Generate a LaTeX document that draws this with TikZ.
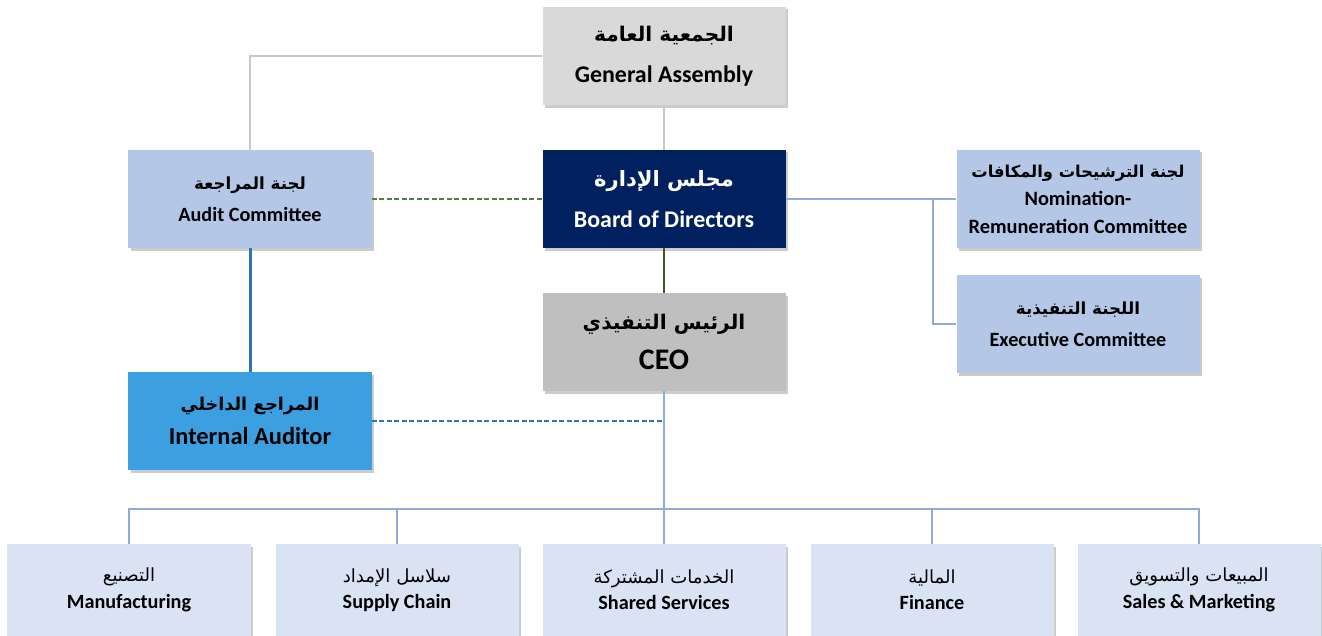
\documentclass[tikz,border=0pt]{standalone}
\usepackage{fontspec}
\setmainfont{Carlito}
\newfontfamily\arfont[Script=Arabic]{DejaVu Sans}
\TeXXeTstate=1
\usetikzlibrary{shadows}

\definecolor{gagray}{HTML}{D9D9D9}
\definecolor{ceogray}{HTML}{BFBFBF}
\definecolor{boardnavy}{HTML}{002060}
\definecolor{comblue}{HTML}{B4C7E7}
\definecolor{iablue}{HTML}{3CA0E0}
\definecolor{deptblue}{HTML}{DAE3F3}
\definecolor{linegray}{HTML}{C8C8C8}
\definecolor{lineblue}{HTML}{8FAADC}
\definecolor{darkblue}{HTML}{2E75B6}
\definecolor{darkgreen}{HTML}{385723}
\definecolor{dashgreen}{HTML}{548235}

% アラビア語のフォント（サイズ指定）
\newcommand{\arbold}[1]{\arfont\bfseries\fontsize{#1}{#1}\selectfont}
\newcommand{\arplain}[1]{\arfont\mdseries\fontsize{#1}{#1}\selectfont}

\begin{document}
\begin{tikzpicture}[x=0.2mm, y=-0.2mm,
    box/.style={rectangle, minimum width=48.6mm, minimum height=19.6mm, inner sep=0pt, align=center,
      drop shadow={shadow xshift=0.5mm, shadow yshift=-0.5mm, opacity=0.2, fill=black}},
    topbox/.style={box, font=\fontsize{13.6}{23}\selectfont\bfseries},
    combox/.style={box, fill=comblue, font=\fontsize{11.5}{18}\selectfont\bfseries},
    deptbox/.style={box, minimum height=18.4mm, fill=deptblue, font=\fontsize{11.5}{15}\selectfont\bfseries},
    grayline/.style={draw=linegray, line width=0.45mm},
    blueline/.style={draw=lineblue, line width=0.45mm},
    dashline/.style={line width=0.4mm, dash pattern=on 1mm off 0.5mm}]
    \useasboundingbox (0,0) rectangle (1322,636);

    \coordinate (split) at (933,199);
    \coordinate (bar) at (664,509);
    \coordinate (iajoin) at (664,421);

    % ノード
    \node[topbox, fill=gagray] (ga) at (664,56) {{\arbold{11.5}\beginR الجمعية العامة\endR}\\General Assembly};
    \node[topbox, fill=boardnavy, text=white] (board) at (664,199) {{\arbold{12}\beginR مجلس الإدارة\endR}\\Board of Directors};
    \node[topbox, fill=ceogray, font=\fontsize{17}{23}\selectfont\bfseries] (ceo) at (664,342) {{\arbold{11.5}\beginR الرئيس التنفيذي\endR}\\CEO};
    \node[combox] (audit) at (250,199) {{\arbold{9.5}\beginR لجنة المراجعة\endR}\\Audit Committee};
    \node[combox, fill=iablue, font=\fontsize{13.9}{19}\selectfont\bfseries] (ia) at (250,421) {{\arbold{10}\beginR المراجع الداخلي\endR}\\Internal Auditor};
    \node[combox, font=\fontsize{11.6}{16}\selectfont\bfseries] (nomination) at (1078,199) {{\arbold{9.3}\beginR لجنة الترشيحات والمكافات\endR}\\Nomination-\\Remuneration Committee};
    \node[combox] (executive) at (1078,324) {{\arbold{9.5}\beginR اللجنة التنفيذية\endR}\\Executive Committee};

    \node[deptbox] (manufacturing) at (129,590) {{\arplain{10.3}\beginR التصنيع\endR}\\Manufacturing};
    \node[deptbox] (supply) at (397,590) {{\arplain{10.3}\beginR سلاسل الإمداد\endR}\\Supply Chain};
    \node[deptbox] (shared) at (664,590) {{\arplain{10.3}\beginR الخدمات المشتركة\endR}\\Shared Services};
    \node[deptbox] (finance) at (932,590) {{\arplain{10.3}\beginR المالية\endR}\\Finance};
    \node[deptbox] (sales) at (1199,590) {{\arplain{10.3}\beginR المبيعات والتسويق\endR}\\Sales \& Marketing};

    % エッジ
    \draw[grayline] (ga.west) -| (audit.north);
    \draw[grayline] (ga) -- (board);
    \draw[dashline, draw=dashgreen] (audit) -- (board);
    \draw[draw=darkgreen, line width=0.45mm] (board) -- (ceo);
    \draw[draw=darkblue, line width=0.6mm] (audit) -- (ia);
    \draw[blueline] (board.east) -- (split) -- (nomination.west);
    \draw[blueline] (split) |- (executive.west);
    \draw[blueline] (ceo.south) -- (bar);
    \draw[dashline, draw=darkblue] (ia.east) -- (iajoin);
    \draw[blueline] (manufacturing.north) |- (bar) -| (sales.north);
    \foreach \n in {supply, shared, finance}
      \draw[blueline] (\n.north) -- (\n.north |- bar);
\end{tikzpicture}
\end{document}
